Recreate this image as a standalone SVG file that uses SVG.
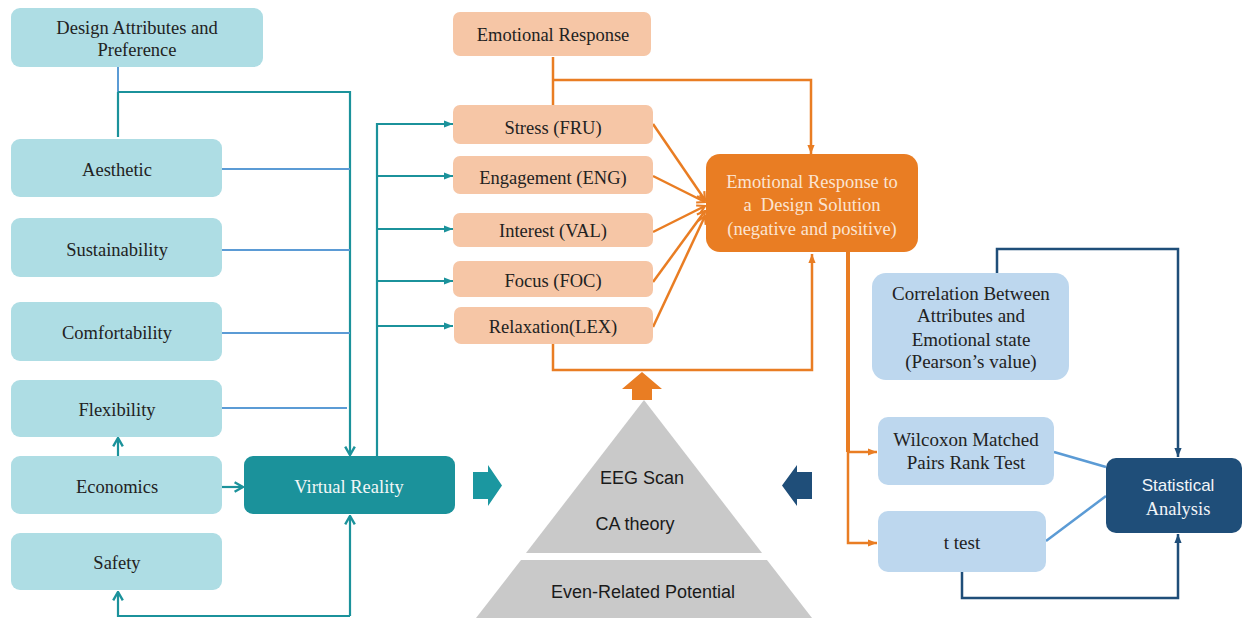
<svg xmlns="http://www.w3.org/2000/svg" width="1244" height="618" viewBox="0 0 1244 618">
<style>
.lt{fill:#AEDDE4}
.vr{fill:#1B929B}
.or{fill:#F6C6A6}
.hub{fill:#E97D23}
.lb{fill:#BDD7EE}
.nv{fill:#1F4E79}
.s{font-family:"Liberation Serif","Times New Roman",serif;font-size:18.5px;fill:#222;text-anchor:middle}
.s19{font-size:19px}
.w{fill:#F3F7F7}
.hw{fill:#FBE4D2}
.ss{font-family:"Liberation Sans",Arial,sans-serif;font-size:18px;fill:#1a1a1a;text-anchor:middle}
.tl{fill:none;stroke:#1B929B;stroke-width:2.2}
.bl{fill:none;stroke:#5B9BD5;stroke-width:2}
.ol{fill:none;stroke:#E97D23;stroke-width:2.5}
.nl{fill:none;stroke:#1F4E79;stroke-width:2.5}
</style>
<defs>
<marker id="tTri" viewBox="0 0 10 10" refX="10" refY="5" markerWidth="10" markerHeight="9" markerUnits="userSpaceOnUse" orient="auto"><path d="M0,1 L10,5 L0,9 z" fill="#1B929B"/></marker>
<marker id="tV" viewBox="0 0 10 10" refX="9" refY="5" markerWidth="12" markerHeight="12" markerUnits="userSpaceOnUse" orient="auto"><path d="M2,1 L9,5 L2,9" fill="none" stroke="#1B929B" stroke-width="2"/></marker>
<marker id="oTri" viewBox="0 0 10 10" refX="10" refY="5" markerWidth="10" markerHeight="9" markerUnits="userSpaceOnUse" orient="auto"><path d="M0,1 L10,5 L0,9 z" fill="#E97D23"/></marker>
<marker id="oV" viewBox="0 0 10 10" refX="9" refY="5" markerWidth="11" markerHeight="11" markerUnits="userSpaceOnUse" orient="auto"><path d="M2,1 L9,5 L2,9" fill="none" stroke="#E97D23" stroke-width="2"/></marker>
<marker id="nTri" viewBox="0 0 10 10" refX="10" refY="5" markerWidth="10" markerHeight="9" markerUnits="userSpaceOnUse" orient="auto"><path d="M0,1 L10,5 L0,9 z" fill="#1F4E79"/></marker>
</defs>

<g id="connectors">
<path class="bl" d="M118,67 V92"/>
<path class="tl" d="M118,92 V137"/>
<path class="tl" d="M118,92 H350 V455" marker-end="url(#tV)"/>
<path class="bl" d="M222,169 H350"/>
<path class="bl" d="M222,250 H350"/>
<path class="bl" d="M222,333 H350"/>
<path class="bl" d="M219,408 H347"/>
<path class="tl" d="M222,487 H243" marker-end="url(#tV)"/>
<path class="tl" d="M118,456 V438" marker-end="url(#tV)"/>
<path class="tl" d="M350,616 V516" marker-end="url(#tV)"/>
<path class="tl" d="M350,616 H118 V592" marker-end="url(#tV)"/>
<path class="tl" d="M377,456 V124 H453" marker-end="url(#tTri)"/>
<path class="tl" d="M377,176 H453" marker-end="url(#tTri)"/>
<path class="tl" d="M377,229 H453" marker-end="url(#tTri)"/>
<path class="tl" d="M377,281 H453" marker-end="url(#tTri)"/>
<path class="tl" d="M377,326 H453" marker-end="url(#tTri)"/>

<path class="ol" d="M553,57 V105"/>
<path class="ol" d="M553,80 H811 V154" marker-end="url(#oTri)"/>
<path class="ol" d="M653,124 L705,200" marker-end="url(#oV)"/>
<path class="ol" d="M653,176 L705,202" marker-end="url(#oV)"/>
<path class="ol" d="M653,232 L705,206" marker-end="url(#oV)"/>
<path class="ol" d="M653,282 L705,211" marker-end="url(#oV)"/>
<path class="ol" d="M653,327 L705,216" marker-end="url(#oV)"/>
<path class="ol" d="M553,344 V370 H812 V254" marker-end="url(#oTri)"/>
<path class="ol" d="M848,252 V452" style="stroke-width:4"/>
<path class="ol" d="M848,452 H877" marker-end="url(#oTri)"/>
<path class="ol" d="M848,452 V543 H877" marker-end="url(#oTri)"/>

<path class="nl" d="M997,273 V249 H1178 V457" marker-end="url(#nTri)"/>
<path class="nl" d="M962,572 V598 H1178 V534" marker-end="url(#nTri)"/>
<path class="bl" d="M1054,452 L1106,467" style="stroke-width:2.5"/>
<path class="bl" d="M1046,541 L1106,496" style="stroke-width:2.5"/>

<polygon points="642,372 662,389 652,389 652,400 632,400 632,389 622,389" fill="#E97D23"/>
<polygon points="473,472 488,472 488,465 502,485.5 488,506 488,499 473,499" fill="#1B97A0"/>
<polygon points="812,472 797,472 797,465 782,485.5 797,506 797,499 812,499" fill="#1F4E79"/>
</g>

<g id="pyramid">
<polygon points="644,400 762,553 526,553" fill="#C9C9C9"/>
<polygon points="521,560 767,560 812,618 476,618" fill="#C9C9C9"/>
<text class="ss" x="642" y="484">EEG Scan</text>
<text class="ss" x="635" y="530">CA theory</text>
<text class="ss" x="643" y="598">Even-Related Potential</text>
</g>

<g id="design-attributes">
<rect class="lt" x="11" y="8" width="252" height="59" rx="9"/>
<text class="s" x="137" y="34">Design Attributes and</text>
<text class="s" x="137" y="56">Preference</text>
</g>
<g id="aesthetic">
<rect class="lt" x="11" y="139" width="211" height="58" rx="9"/>
<text class="s" x="117" y="176">Aesthetic</text>
</g>
<g id="sustainability">
<rect class="lt" x="11" y="218" width="211" height="59" rx="9"/>
<text class="s" x="117" y="256">Sustainability</text>
</g>
<g id="comfortability">
<rect class="lt" x="11" y="302" width="211" height="59" rx="9"/>
<text class="s" x="117" y="339">Comfortability</text>
</g>
<g id="flexibility">
<rect class="lt" x="11" y="380" width="211" height="57" rx="9"/>
<text class="s" x="117" y="416">Flexibility</text>
</g>
<g id="economics">
<rect class="lt" x="11" y="456" width="211" height="58" rx="9"/>
<text class="s" x="117" y="493">Economics</text>
</g>
<g id="safety">
<rect class="lt" x="11" y="533" width="211" height="57" rx="9"/>
<text class="s" x="117" y="569">Safety</text>
</g>
<g id="virtual-reality">
<rect class="vr" x="244" y="456" width="211" height="58" rx="9"/>
<text class="s w" x="349" y="493">Virtual Reality</text>
</g>

<g id="emotional-response">
<rect class="or" x="453" y="12" width="198" height="44" rx="7"/>
<text class="s" x="553" y="41">Emotional Response</text>
</g>
<g id="stress">
<rect class="or" x="453" y="105" width="200" height="39" rx="7"/>
<text class="s" x="553" y="134">Stress (FRU)</text>
</g>
<g id="engagement">
<rect class="or" x="453" y="156" width="200" height="38" rx="7"/>
<text class="s" x="553" y="184">Engagement (ENG)</text>
</g>
<g id="interest">
<rect class="or" x="453" y="213" width="200" height="34" rx="7"/>
<text class="s" x="553" y="237">Interest (VAL)</text>
</g>
<g id="focus">
<rect class="or" x="453" y="261" width="200" height="36" rx="7"/>
<text class="s" x="553" y="287">Focus (FOC)</text>
</g>
<g id="relaxation">
<rect class="or" x="454" y="307" width="199" height="37" rx="7"/>
<text class="s" x="553" y="333">Relaxation(LEX)</text>
</g>
<g id="emotional-response-design">
<rect class="hub" x="706" y="154" width="212" height="98" rx="14"/>
<text class="s hw" x="812" y="188">Emotional Response to</text>
<text class="s hw" x="812" y="211" xml:space="preserve">a  Design Solution</text>
<text class="s hw" x="812" y="235">(negative and positive)</text>
</g>

<g id="correlation">
<rect class="lb" x="872" y="273" width="197" height="107" rx="14"/>
<text class="s s19" x="971" y="300">Correlation Between</text>
<text class="s s19" x="971" y="322">Attributes and</text>
<text class="s s19" x="971" y="346">Emotional state</text>
<text class="s s19" x="971" y="368">(Pearson’s value)</text>
</g>
<g id="wilcoxon">
<rect class="lb" x="878" y="417" width="176" height="68" rx="10"/>
<text class="s s19" x="966" y="446">Wilcoxon Matched</text>
<text class="s s19" x="966" y="469">Pairs Rank Test</text>
</g>
<g id="t-test">
<rect class="lb" x="878" y="511" width="168" height="61" rx="10"/>
<text class="s s19" x="962" y="549">t test</text>
</g>
<g id="statistical-analysis">
<rect class="nv" x="1106" y="458" width="136" height="75" rx="10"/>
<text class="ss" x="1178" y="491" style="fill:#F2F5F8;font-size:17px">Statistical</text>
<text class="s" x="1178" y="515" style="fill:#F2F5F8">Analysis</text>
</g>
</svg>
